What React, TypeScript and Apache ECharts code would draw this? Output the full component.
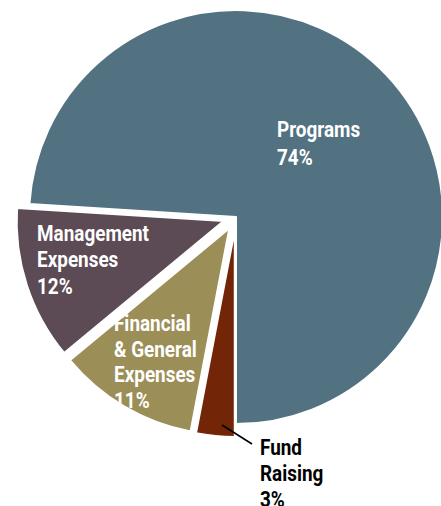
import React, { useEffect, useRef } from "react";
import * as echarts from "echarts";

const categories = ["Fund\nRaising", "Financial\n& General\nExpenses", "Management\nExpenses", "Programs"];
const values = [3, 11, 12, 74];
const colors = ["#722607", "#9c8e57", "#5c4a55", "#527282"];
const labelColors = ["#000000", "#ffffff", "#ffffff", "#ffffff"];
const exploded = [true, true, true, false];

// label anchor spots (top-left of each label block) and line heights
const labelSpots: [number, number][] = [
  [260, 435],
  [114, 311],
  [37, 220],
  [277, 116],
];
const labelLineHeights = [26, 25.5, 26.5, 28];

const FONT = "Roboto, 'Liberation Sans', sans-serif";

export default function App() {
  const ref = useRef<HTMLDivElement>(null);
  useEffect(() => {
    document.body.style.margin = "0";
    const chart = echarts.init(ref.current!, null, { renderer: "svg" });
    const labels = categories.map((name, i) => ({
      type: "text",
      x: labelSpots[i][0],
      y: labelSpots[i][1],
      scaleX: 0.86,
      z: 10,
      style: {
        text: `${name}\n${values[i]}%`,
        fill: labelColors[i],
        fontFamily: FONT,
        fontWeight: "bold",
        fontSize: 22,
        lineHeight: labelLineHeights[i],
        align: "left",
        verticalAlign: "top",
      },
    }));
    chart.setOption({
      animation: false,
      backgroundColor: "#ffffff",
      graphic: [
        ...labels,
        {
          type: "line",
          z: 10,
          shape: { x1: 222, y1: 425, x2: 252, y2: 444 },
          style: { stroke: "#000000", lineWidth: 1.6 },
        },
      ],
      series: [
        {
          type: "pie",
          center: [236, 217],
          radius: 207,
          startAngle: 270,
          clockwise: true,
          selectedMode: "multiple",
          selectedOffset: 13,
          emphasis: { disabled: true },
          label: { show: false },
          labelLine: { show: false },
          itemStyle: { borderColor: "#ffffff", borderWidth: 2 },
          data: categories.map((name, i) => ({
            name,
            value: values[i],
            selected: exploded[i],
            itemStyle: { color: colors[i] },
          })),
        },
      ],
    });
    return () => chart.dispose();
  }, []);
  return <div ref={ref} style={{ width: 441, height: 506 }} />;
}
